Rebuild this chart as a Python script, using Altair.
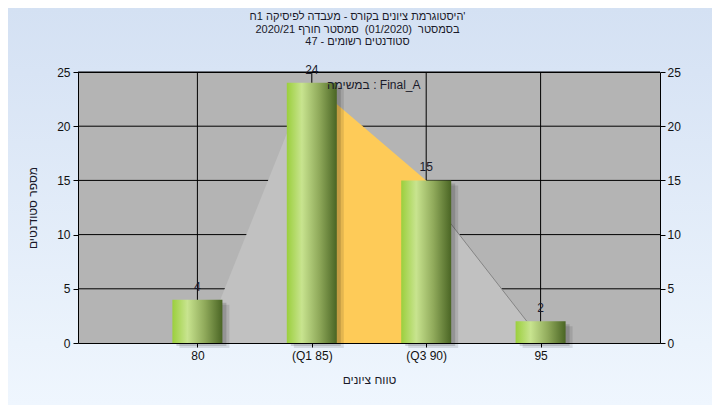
import altair as alt
import pandas as pd

# ---------------- data ----------------
bins = [80, 85, 90, 95]
counts = [4, 24, 15, 2]
tick_labels = ["80", "(Q1 85)", "(Q3 90)", "95"]
gray_x = [81, 84.8, 89.6, 94.4]
gray_y = [4, 24, 15, 2]
iqr_x = [85, 90]
iqr_y = [24, 15]
y_ticks = [0, 5, 10, 15, 20, 25]
x_grid = [80, 85, 90, 95]
y_grid = [5, 10, 15, 20, 25]
title_lines = [
    "היסטוגרמת ציונים בקורס - מעבדה לפיסיקה 1ח'",
    "בסמסטר\u00a0\u00a0(01/2020)\u00a0\u00a0סמסטר חורף 2020/21",
    "סטודנטים רשומים - 47",
]
annotation = "במשימה : Final_A"
x_title = "טווח ציונים"
y_title = "מספר סטודנטים"

# ---------------- layout / style ----------------
FONT = "Liberation Sans"
W, H = 582, 271
PL, PT, PR, PB = 70, 64, 52, 62
TOP_C = (212, 225, 243)
BOT_C = (239, 246, 254)


def col_at(y):
    t = (y + PT) / (H + PT + PB)
    t = min(max(t, 0), 1)
    c = [round(a + (b - a) * t) for a, b in zip(TOP_C, BOT_C)]
    return "#%02x%02x%02x" % tuple(c)


def vgrad(y0, y1):
    return alt.LinearGradient(
        gradient="linear", x1=0, x2=0, y1=0, y2=1,
        stops=[alt.GradientStop(color=col_at(y0), offset=0),
               alt.GradientStop(color=col_at(y1), offset=1)])


bar_grad = alt.LinearGradient(
    gradient="linear", x1=0, x2=1, y1=0, y2=0,
    stops=[alt.GradientStop(color="#9bcf3d", offset=0),
           alt.GradientStop(color="#c8e48f", offset=0.3),
           alt.GradientStop(color="#8fa95a", offset=0.65),
           alt.GradientStop(color="#4a6524", offset=1)])

xs = alt.Scale(domain=[75, 100], nice=False, zero=False)
ys = alt.Scale(domain=[0, 25], nice=False)

label_expr = " : ".join(
    f"datum.value == {b} ? '{l}'" for b, l in zip(bins, tick_labels)) + " : ''"

x_axis = alt.Axis(values=bins, labelExpr=label_expr, tickSize=4, labelPadding=3,
                  title=x_title, titlePadding=13, grid=False, zindex=1, orient="bottom")
y_left = alt.Axis(values=y_ticks, tickSize=5, labelPadding=3, title=y_title,
                  titlePadding=17, grid=False, zindex=1, orient="left")
y_right = alt.Axis(values=y_ticks, tickSize=5, labelPadding=2, title="",
                   grid=False, zindex=1, orient="right")

one = pd.DataFrame({"k": [0]})
df = pd.DataFrame({"bin": bins, "count": counts})


def strip(x0, x1, y0, y1):
    return alt.Chart(one).mark_rect(color=vgrad(y0, y1), clip=False).encode(
        x=alt.value(x0), x2=alt.value(x1), y=alt.value(y0), y2=alt.value(y1))


strips = [
    strip(-PL, W + PR, -PT, 0),
    strip(-PL, W + PR, H, H + PB),
    strip(-PL, 0, 0, H),
    strip(W, W + PR, 0, H),
]

xgrid = alt.Chart(pd.DataFrame({"g": x_grid})).mark_rule(color="black", strokeWidth=1).encode(
    x=alt.X("g:Q", scale=xs, axis=None))
ygrid = alt.Chart(pd.DataFrame({"g": y_grid})).mark_rule(color="black", strokeWidth=1).encode(
    y=alt.Y("g:Q", scale=ys, axis=None))

gray = alt.Chart(pd.DataFrame({"x": gray_x, "y": gray_y})).mark_area(color="#c1c1c1").encode(
    x=alt.X("x:Q", scale=xs, axis=None), y=alt.Y("y:Q", scale=ys, axis=None))
gray_line = alt.Chart(pd.DataFrame({"x": gray_x[2:], "y": gray_y[2:]})).mark_line(
    color="#858585", strokeWidth=1).encode(
    x=alt.X("x:Q", scale=xs, axis=None), y=alt.Y("y:Q", scale=ys, axis=None))
yellow = alt.Chart(pd.DataFrame({"x": iqr_x, "y": iqr_y})).mark_area(color="#fecb58").encode(
    x=alt.X("x:Q", scale=xs, axis=None), y=alt.Y("y:Q", scale=ys, axis=None))

base = alt.Chart(df)
shadow1 = base.mark_bar(size=50, color="black", opacity=0.14, xOffset=4, yOffset=3).encode(
    x=alt.X("bin:Q", scale=xs, axis=None), y=alt.Y("count:Q", scale=ys, axis=None))
shadow2 = base.mark_bar(size=50, color="black", opacity=0.10, xOffset=7, yOffset=5).encode(
    x=alt.X("bin:Q", scale=xs, axis=None), y=alt.Y("count:Q", scale=ys, axis=None))
bars = base.mark_bar(size=50, color=bar_grad).encode(
    x=alt.X("bin:Q", scale=xs, axis=x_axis), y=alt.Y("count:Q", scale=ys, axis=y_left))
labels = base.mark_text(baseline="bottom", dy=-6, font=FONT, fontSize=12, color="#1a1a2a").encode(
    x=alt.X("bin:Q", scale=xs, axis=None), y=alt.Y("count:Q", scale=ys, axis=y_right),
    text="count:Q")

annot = alt.Chart(pd.DataFrame({"t": [annotation]})).mark_text(
    align="left", baseline="middle", font=FONT, fontSize=12, color="#1a1a2a").encode(
    text="t:N", x=alt.value(249), y=alt.value(13))

title_y = [-55, -42.5, -30]
titles = [
    alt.Chart(pd.DataFrame({"t": [line]})).mark_text(
        align="center", baseline="middle", font=FONT, fontSize=11, color="#1a1a2a").encode(
        text="t:N", x=alt.value(279.5), y=alt.value(ty))
    for line, ty in zip(title_lines, title_y)
]

chart = alt.layer(
    *strips, xgrid, ygrid, gray, gray_line, yellow, shadow2, shadow1, bars, labels, annot, *titles
).resolve_axis(y="independent", x="independent").properties(
    width=W, height=H,
    autosize=alt.AutoSizeParams(type="none"),
    padding={"left": PL, "top": PT, "right": PR, "bottom": PB},
).configure(background="#e2ecf8").configure_view(
    fill="#b4b4b4", stroke="black"
).configure_axis(
    labelFont=FONT, labelFontSize=12, labelColor="#111111",
    titleFont=FONT, titleFontSize=12, titleFontWeight="normal", titleColor="#1a1a2a",
    domainColor="black", tickColor="black",
)

chart.save("out.html", embed_options={"renderer": "svg", "actions": False})
